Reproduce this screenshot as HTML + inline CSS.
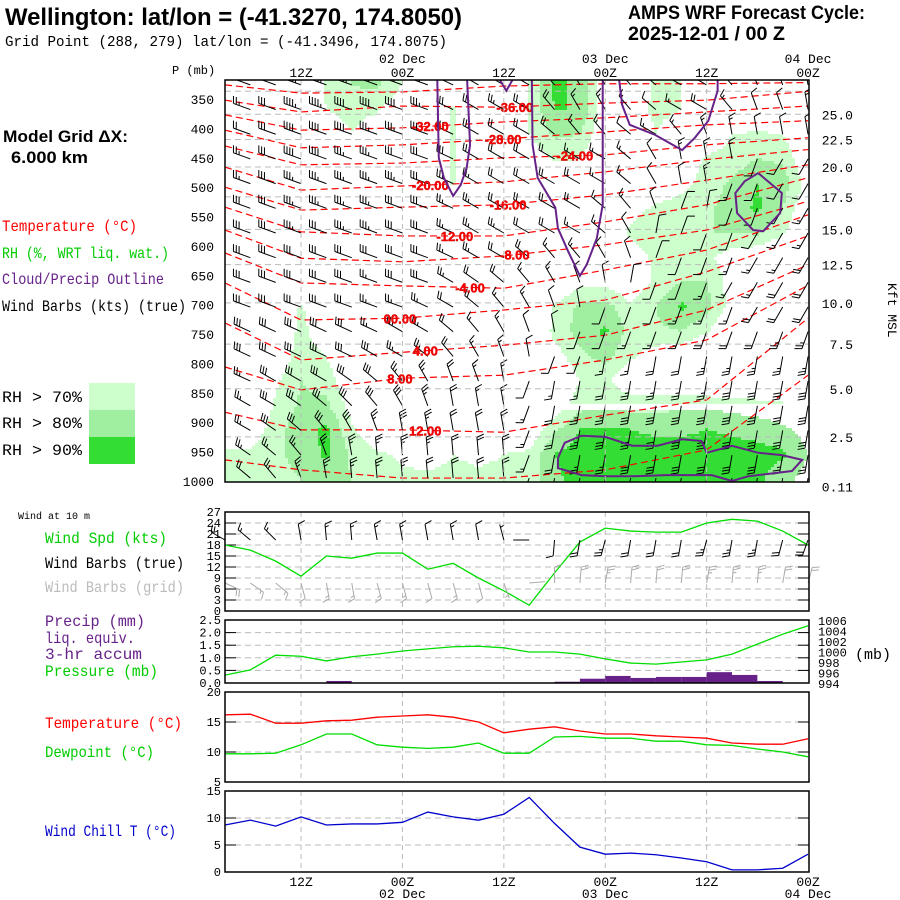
<!DOCTYPE html>
<html><head><meta charset="utf-8"><title>AMPS WRF Meteogram Wellington</title>
<style>
html,body{margin:0;padding:0;background:#fff;}
svg{display:block;}
text{font-family:"Liberation Mono",monospace;}
.hdr{font-family:"Liberation Sans",sans-serif;font-weight:bold;}
</style></head>
<body>
<svg id="chart" xmlns="http://www.w3.org/2000/svg" width="900" height="900" viewBox="0 0 900 900">
<rect x="0" y="0" width="900" height="900" fill="#fff"/>
<defs>
<clipPath id="mainclip"><rect x="225" y="80" width="584" height="402"/></clipPath>
</defs>
<text class="hdr" x="5" y="25" font-size="24" textLength="457" lengthAdjust="spacingAndGlyphs">Wellington:  lat/lon = (-41.3270, 174.8050)</text>
<text x="5" y="46" font-size="15" textLength="442" lengthAdjust="spacingAndGlyphs">Grid Point (288, 279) lat/lon = (-41.3496, 174.8075)</text>
<text class="hdr" x="628" y="19" font-size="19" textLength="237" lengthAdjust="spacingAndGlyphs">AMPS WRF Forecast Cycle:</text>
<text class="hdr" x="628" y="40" font-size="19" textLength="157" lengthAdjust="spacingAndGlyphs">2025-12-01 / 00  Z</text>
<text class="hdr" x="3" y="142" font-size="17" textLength="125" lengthAdjust="spacingAndGlyphs">Model Grid ΔX:</text>
<text class="hdr" x="11" y="163" font-size="17" textLength="77" lengthAdjust="spacingAndGlyphs">6.000 km</text>
<text x="2" y="231" font-size="16" fill="#ff0000" textLength="135" lengthAdjust="spacingAndGlyphs">Temperature (°C)</text>
<text x="2" y="258" font-size="16" fill="#00cc00" textLength="167" lengthAdjust="spacingAndGlyphs">RH (%, WRT liq. wat.)</text>
<text x="2" y="284" font-size="16" fill="#662288" textLength="162" lengthAdjust="spacingAndGlyphs">Cloud/Precip Outline</text>
<text x="2" y="311" font-size="16" fill="#000" textLength="184" lengthAdjust="spacingAndGlyphs">Wind Barbs (kts) (true)</text>
<rect x="89" y="383" width="46" height="27" fill="#ccffcc"/>
<rect x="89" y="410" width="46" height="27" fill="#a0eea0"/>
<rect x="89" y="437" width="46" height="27" fill="#33dd33"/>
<text x="2" y="402" font-size="16" textLength="80" lengthAdjust="spacingAndGlyphs">RH &gt; 70%</text>
<text x="2" y="428" font-size="16" textLength="80" lengthAdjust="spacingAndGlyphs">RH &gt; 80%</text>
<text x="2" y="455" font-size="16" textLength="80" lengthAdjust="spacingAndGlyphs">RH &gt; 90%</text>
<text x="172" y="74" font-size="12">P (mb)</text>
<text x="888" y="283" font-size="13" transform="rotate(90 888 283)">Kft MSL</text>
<text x="18" y="519" font-size="10">Wind at 10 m</text>
<text x="45" y="543" font-size="16" fill="#00cc00" textLength="122" lengthAdjust="spacingAndGlyphs">Wind Spd (kts)</text>
<text x="45" y="568" font-size="16" fill="#000" textLength="139" lengthAdjust="spacingAndGlyphs">Wind Barbs (true)</text>
<text x="45" y="592" font-size="16" fill="#bbbbbb" textLength="139" lengthAdjust="spacingAndGlyphs">Wind Barbs (grid)</text>
<text x="45" y="626" font-size="16" fill="#662288" textLength="100" lengthAdjust="spacingAndGlyphs">Precip (mm)</text>
<text x="45" y="643" font-size="16" fill="#662288" textLength="90" lengthAdjust="spacingAndGlyphs">liq. equiv.</text>
<text x="45" y="659" font-size="16" fill="#662288" textLength="97" lengthAdjust="spacingAndGlyphs">3-hr accum</text>
<text x="45" y="676" font-size="16" fill="#00cc00" textLength="113" lengthAdjust="spacingAndGlyphs">Pressure (mb)</text>
<text x="45" y="728" font-size="16" fill="#ff0000" textLength="137" lengthAdjust="spacingAndGlyphs">Temperature (°C)</text>
<text x="45" y="757" font-size="16" fill="#00cc00" textLength="109" lengthAdjust="spacingAndGlyphs">Dewpoint (°C)</text>
<text x="45" y="836" font-size="16" fill="#0000cc" textLength="131" lengthAdjust="spacingAndGlyphs">Wind Chill T (°C)</text>
<text x="855" y="659" font-size="15">(mb)</text>
<g id="layer"></g>
</svg>
<script>
// ---------- data ----------
const times = [0,3,6,9,12,15,18,21,24,27,30,33,36,39,42,45,48,51,54,57,60,63,66,69];
const levels = [326,368,410,452,494,536,578,620,662,704,746,788,830,872,914,956,995];
const rhRows = [
[50,50,50,55,72,80,82,70,55,60,50,50,72,92,88,60,60,72,70,62,62,62,62,55],
[50,50,50,55,70,74,72,60,55,72,50,50,72,90,90,62,60,74,70,60,55,55,55,50],
[50,50,50,50,60,70,60,50,50,72,50,50,70,82,80,60,55,70,60,60,70,72,70,55],
[50,50,50,50,50,55,50,50,50,72,50,50,60,72,70,55,55,55,60,72,74,80,78,60],
[50,50,50,50,50,50,50,50,50,72,50,50,50,55,55,55,55,60,65,75,82,90,86,65],
[50,50,50,50,50,50,50,50,50,55,50,50,50,50,55,60,65,72,76,78,84,92,80,60],
[50,50,50,50,50,50,50,50,50,50,50,50,50,50,55,62,72,78,80,80,80,82,72,55],
[50,50,50,50,50,50,50,50,50,50,50,50,50,50,50,55,65,72,75,72,65,60,55,50],
[50,50,55,50,50,50,50,50,50,50,50,50,50,55,66,66,60,72,80,80,65,55,50,50],
[50,50,50,72,55,50,50,50,50,50,50,50,50,72,82,84,72,80,92,84,65,50,50,50],
[50,50,55,74,60,50,50,50,50,50,50,50,50,74,84,92,76,78,80,72,55,50,50,50],
[50,50,60,76,70,55,50,50,50,50,50,50,50,65,78,84,72,65,60,55,50,50,50,50],
[50,50,68,80,76,60,50,50,50,50,50,50,50,55,70,72,62,60,55,55,55,55,50,50],
[55,55,72,82,82,65,55,50,50,50,50,50,55,62,76,78,76,76,78,78,76,74,72,70],
[60,62,76,86,92,72,60,55,55,55,55,55,60,78,90,90,90,88,88,90,88,86,82,76],
[72,72,78,84,92,78,72,68,66,70,68,70,72,90,95,95,95,95,95,95,95,94,92,80],
[70,72,76,80,84,80,74,72,72,72,72,72,74,88,94,94,94,94,94,94,94,92,84,76]];
const windSpdRows = [
[20,25,30,45,45,45,40,40,35,30,25,25,20,20,15,15,15,10,15,20,15,10,10,15],
[20,25,30,45,45,40,40,40,35,30,25,25,20,20,15,15,15,10,15,20,15,10,10,15],
[20,20,30,40,40,40,35,35,30,30,25,20,20,20,15,15,10,15,15,15,15,10,10,10],
[25,25,30,40,40,35,35,30,30,30,25,20,20,20,15,15,15,10,15,15,15,10,10,10],
[25,25,30,35,35,35,35,35,30,25,25,20,20,20,20,15,15,10,10,15,15,10,10,10],
[30,30,30,35,35,35,35,30,30,25,25,20,20,20,20,15,15,10,10,10,10,10,10,15],
[30,30,30,35,30,35,35,30,30,25,25,25,20,20,15,15,10,10,10,10,10,10,15,15],
[30,30,30,30,30,30,30,30,30,25,25,20,20,15,15,10,10,10,10,10,15,15,15,20],
[30,30,30,30,30,30,25,30,30,25,20,20,15,15,10,10,10,10,10,15,15,15,20,20],
[30,30,30,30,30,30,25,25,25,20,20,15,15,10,10,10,10,10,15,15,15,20,20,20],
[30,30,30,30,30,30,25,25,25,20,15,15,10,10,10,10,15,15,15,20,20,20,25,25],
[30,30,30,30,30,30,30,25,25,20,15,15,10,10,10,15,15,20,20,25,25,25,25,25],
[25,25,30,30,30,30,30,25,25,20,15,15,10,15,15,20,25,25,25,25,30,30,30,30],
[25,25,30,30,30,30,30,30,25,20,15,15,15,20,25,25,30,30,30,30,30,30,30,30],
[25,25,30,30,30,30,25,30,25,20,20,20,15,20,25,30,30,30,30,30,30,30,30,30],
[25,25,25,25,25,25,25,25,25,20,20,20,15,20,25,25,30,30,30,30,30,30,25,25],
[20,20,25,25,25,25,25,25,20,20,20,20,15,20,20,25,25,25,25,25,25,25,25,20]];
const windDirRows = [
[290,290,290,290,290,290,290,290,290,295,300,300,300,320,330,330,320,310,300,300,320,340,340,350],
[290,290,290,290,290,290,290,290,290,295,300,300,300,320,330,330,320,310,300,300,320,340,340,350],
[290,290,290,290,290,290,290,290,290,295,300,300,300,310,320,320,310,300,320,340,350,350,350,350],
[290,290,290,290,290,290,290,290,290,295,300,300,300,300,300,300,310,330,350,350,350,200,210,210],
[290,290,290,290,290,290,290,290,290,295,300,300,300,300,300,300,310,330,350,350,200,200,210,210],
[290,290,290,290,290,290,290,290,290,295,300,300,300,300,300,310,320,340,20,10,200,200,210,210],
[290,290,290,290,290,290,290,290,290,295,300,300,300,300,300,310,330,10,20,200,200,210,210,210],
[290,290,290,290,290,290,290,290,290,295,300,300,310,320,320,330,340,20,200,200,200,210,210,210],
[290,290,290,290,290,290,290,290,290,300,305,310,320,330,340,350,10,200,200,200,210,210,210,210],
[290,290,290,290,290,290,290,290,295,300,310,320,330,340,350,200,200,200,200,200,200,210,210,210],
[295,295,295,295,295,295,295,300,300,310,320,330,340,350,200,200,200,200,200,200,200,200,200,200],
[295,295,295,295,295,295,300,300,310,320,330,340,350,200,200,190,190,190,190,190,190,190,190,190],
[295,295,300,300,300,305,310,320,330,340,340,350,200,190,190,190,190,190,190,190,190,190,190,190],
[300,300,300,305,310,315,320,330,340,350,350,350,200,190,190,190,190,190,190,190,190,190,190,190],
[300,300,305,310,320,330,340,350,350,350,350,350,200,190,190,190,190,190,190,190,190,190,190,190],
[305,305,310,320,340,350,355,355,355,355,355,355,200,190,190,190,190,190,190,190,190,190,190,190],
[310,310,320,340,350,355,355,355,355,355,355,355,200,190,190,190,190,190,190,190,190,190,190,190]];
const isoValues = [-40,-36,-32,-28,-24,-20,-16,-12,-8,-4,0,4,8,12,16];
const isoTimes = [0,9,21,33,45,57,69];
const isoPressures = [
[326,340,338,328,324,324,322],
[352,372,362,364,357,352,337],
[377,403,399,389,382,372,362],
[403,433,428,418,406,394,387],
[430,462,459,450,445,428,416],
[466,505,498,491,474,453,436],
[500,539,534,530,513,488,462],
[534,576,583,583,559,530,484],
[573,621,627,617,598,573,524],
[612,663,668,672,641,607,547],
[663,726,723,709,692,644,583],
[731,794,781,769,752,709,632],
[806,845,825,820,794,760,667],
[883,913,913,917,888,862,723],
[964,981,995,995,981,947,820]];
const isoLabelTimes = [null,34.3,24.3,32.9,41.4,24.3,33.5,27.2,34.3,29,20.7,23.7,20.7,23.7,null];
const cloudOutlineTimes = [
[25.1,25.3,25.9,27.0,27.9,28.6,29.0,28.6],
[31.8,33.3,34.7],
[36.3,36.4,37.0,39.1,39.4,40.6,42.0,42.8,44.0,44.7,44.7],
[46.5,47.0,47.9,50.9,54.1,55.6,57.2,58.3,58.3],
[63.1,65.9,65.7,63.7,62.5,60.6,60.4,61.5,63.1],
[39.4,40.2,42.2,45.0,48.2,51.2,54.1,56.4,57.0,60.0,63.1,65.9,68.3,67.1,61.9,60.0,57.6,52.1,48.2,45.0,42.2,39.4,39.4]];
const cloudOutlinePressures = [
[300,450,484,515,496,467,428,300],
[300,336,300],
[300,428,484,535,570,609,651,632,587,530,300],
[300,360,394,411,437,416,387,336,300],
[476,510,544,575,573,544,510,490,476],
[961,935,923,925,940,940,929,932,952,940,952,956,964,983,992,1000,990,990,992,992,990,978,961]];
const kftLabels = [27.5,25.0,22.5,20.0,17.5,15.0,12.5,10.0,7.5,5.0,2.5,0.11];
const pressureTicks = [350,400,450,500,550,600,650,700,750,800,850,900,950,1000];
const timeTickTimes = [9,21,33,45,57,69];
const timeTickLabels = ["12Z","00Z","12Z","00Z","12Z","00Z"];
const dateLabels = ["","02 Dec","","03 Dec","","04 Dec"];
// surface series (3-hourly)
const wind10Spd = [18,16.6,13.6,9.5,15,14.4,15.8,15.8,11.4,13,9,5.5,1.6,10.4,18.8,22.6,21.8,21.5,21.5,24,25,24.5,21.8,18];
const wind10Dir = [300,310,315,350,355,355,350,350,350,350,350,345,270,185,190,195,190,190,190,195,190,190,195,200];
const sfcPressure = [995.5,996.5,999.3,999.1,998.2,999,999.5,1000.1,1000.5,1000.9,1001,1000.7,999.9,999.9,999.5,998.6,997.8,997.6,998,998.4,999.5,1001.4,1003.3,1004.9];
const precip3h = [0,0,0,0,0.08,0,0,0,0,0,0,0,0,0.05,0.17,0.28,0.2,0.24,0.24,0.43,0.32,0.08,0];
const sfcTemp = [16.2,16.3,14.8,14.8,15.2,15.3,15.8,16,16.2,15.8,15,13.2,13.8,14.2,13.5,13,13,12.7,12.5,12.3,11.5,11.3,11.3,12.2];
const sfcDewpt = [9.7,9.7,9.8,11.2,13,13,11.2,10.8,10.6,10.8,11.5,9.8,9.8,12.5,12.6,12.3,12.3,11.8,11.8,11.2,11.1,10.5,10,9.2];
const windChill = [8.7,9.6,8.5,10.2,8.7,8.9,8.9,9.2,11.1,10.2,9.6,10.7,13.8,9,4.6,3.3,3.5,3.2,2.6,1.9,0.4,0.4,0.7,3.3];
const windTicks = [0,3,6,9,12,15,18,21,24,27];
const precipTicks = [0,0.5,1,1.5,2,2.5];
const pressTicks = [994,996,998,1000,1002,1004,1006];
const tempTicks = [5,10,15,20];
const chillTicks = [0,5,10,15];

// ---------- scales ----------
const X0 = 225, X1 = 809;
const xT = t => 225 + t * 8.45;
const yP = p => 99 + (p - 350) * 0.5877;
const yW = v => 611 - v * 3.667;
const yPr = v => 683 - v * 25.2;
const yPs = p => 683 - (p - 994) * 5.25;
const yTm = v => 692 + (20 - v) * 6;
const yCh = v => 791 + (15 - v) * 5.4;
const kftToP = k => 1013.25 * Math.pow(1 - 2.25577e-5 * k * 304.8, 5.25588);

const NS = "http://www.w3.org/2000/svg";
const layer = document.getElementById("layer");
function mk(tag, attrs, parent) {
  const e = document.createElementNS(NS, tag);
  for (const k in attrs) e.setAttribute(k, attrs[k]);
  (parent || layer).appendChild(e);
  return e;
}
function txt(s, attrs, parent) { const e = mk("text", attrs, parent); e.textContent = s; return e; }

// ---------- main panel ----------
const mainG = mk("g", {"clip-path": "url(#mainclip)"});



function rhAt(x, y) {
  let c = (x - 225) / 25.35; c = Math.max(0, Math.min(23, c));
  let r = (y - 85) / 24.6; r = Math.max(0, Math.min(16, r));
  const c0 = Math.min(22, Math.floor(c)), r0 = Math.min(15, Math.floor(r));
  const fc = c - c0, fr = r - r0;
  const a = rhRows[r0][c0], b = rhRows[r0][c0 + 1], d = rhRows[r0 + 1][c0], e = rhRows[r0 + 1][c0 + 1];
  return (a * (1 - fc) + b * fc) * (1 - fr) + (d * (1 - fc) + e * fc) * fr;
}
const rhColors = ["#ccffcc", "#a0eea0", "#33dd33"];
const rhG = mk("g", {}, mainG);


const CS = 3;
for (let y = 80; y < 482; y += CS) {
  let runStart = null, runCls = -1;
  for (let x = 225; x <= 809; x += CS) {
    let cls = -1;
    if (x < 809) { const v = rhAt(x + CS / 2, y + CS / 2); cls = v >= 90 ? 2 : v >= 80 ? 1 : v >= 70 ? 0 : -1; }
    if (cls !== runCls) {
      if (runCls >= 0) {
        const cell = mk("rect", {x: runStart, y: y, width: x - runStart, height: CS, fill: rhColors[runCls]}, rhG);
        
      }
      runStart = x; runCls = cls;
    }
  }
}

kftLabels.forEach(k => {
  const y = yP(kftToP(k));
  if (k > 0.2) {
    const gl = mk("line", {x1: X0, x2: X1, y1: y, y2: y, stroke: "#bbb", "stroke-dasharray": "6,4", "stroke-width": 1}, mainG);
    
  }
});
const panels = [[80, 482], [512, 611], [620, 683], [692, 782], [791, 872]];
panels.forEach(pn => {
  timeTickTimes.forEach(t => {
    if (t >= 69) return;
    const vl = mk("line", {x1: xT(t), x2: xT(t), y1: pn[0], y2: pn[1], stroke: "#bbb", "stroke-dasharray": "5,4", "stroke-width": 1});
    
  });
});

isoPressures.forEach((row, i) => {
  const pts = row.map((p, j) => xT(isoTimes[j]) + "," + yP(p)).join(" ");
  const pl = mk("polyline", {points: pts, fill: "none", stroke: "#ff0000", "stroke-width": 1.2, "stroke-dasharray": "7,4"}, mainG);
  
  
});

function barb(parent, x, y, dir, spd, color, L) {
  const r = dir * Math.PI / 180;
  const dx = Math.sin(r), dy = -Math.cos(r);
  const fx = -dy, fy = dx;
  let s = Math.round(spd / 5) * 5;
  let d = "M" + x + " " + y + "L" + (x + dx * L) + " " + (y + dy * L);
  let pos = L;
  const P = q => [x + dx * q, y + dy * q];
  let flags = "";
  while (s >= 50) {
    const a = P(pos), b = P(pos - 4);
    flags += "M" + a[0] + " " + a[1] + "L" + (a[0] + fx * 7) + " " + (a[1] + fy * 7) + "L" + b[0] + " " + b[1] + "Z";
    pos -= 6; s -= 50;
  }
  while (s >= 10) {
    const a = P(pos);
    d += "M" + a[0] + " " + a[1] + "L" + (a[0] + fx * 7 + dx * 2.5) + " " + (a[1] + fy * 7 + dy * 2.5);
    pos -= 3; s -= 10;
  }
  if (s >= 5) {
    if (pos === L) pos -= 3;
    const a = P(pos);
    d += "M" + a[0] + " " + a[1] + "L" + (a[0] + fx * 3.5 + dx * 1.2) + " " + (a[1] + fy * 3.5 + dy * 1.2);
  }
  const g = mk("path", {d: d, stroke: color, fill: "none", "stroke-width": 1}, parent);
  
  
  if (flags) {
    const f = mk("path", {d: flags, fill: color, stroke: color, "stroke-width": 0.5}, parent);
    
  }
}
const barbG = mk("g", {}, mainG);


levels.forEach((p, ri) => {
  times.forEach((t, ci) => {
    if (ci === 0) return;
    barb(barbG, xT(t), yP(p), windDirRows[ri][ci], windSpdRows[ri][ci], "#000", 18);
  });
});

isoValues.forEach((v, i) => {
  const lt = isoLabelTimes[i];
  if (lt === null) return;
  let p = isoPressures[i][0];
  for (let j = 0; j < isoTimes.length - 1; j++) {
    if (lt >= isoTimes[j] && lt <= isoTimes[j + 1]) {
      const f = (lt - isoTimes[j]) / (isoTimes[j + 1] - isoTimes[j]);
      p = isoPressures[i][j] * (1 - f) + isoPressures[i][j + 1] * f;
    }
  }
  const s = v === 0 ? "00.00" : v.toFixed(2);
  const lb = txt(s, {x: xT(lt), y: yP(p) + 5, "text-anchor": "middle", fill: "#ff0000", "font-size": 13, "font-weight": "bold", style: "font-family:'Liberation Sans',sans-serif", stroke: "#cc0000", "stroke-width": 0.4}, mainG);
  
  
});

cloudOutlineTimes.forEach((ts, i) => {
  const pts = ts.map((t, j) => xT(t) + "," + yP(cloudOutlinePressures[i][j])).join(" ");
  const ol = mk("polyline", {points: pts, fill: "none", stroke: "#662288", "stroke-width": 2}, mainG);
  
  
});

const mf = mk("rect", {x: X0, y: 80, width: X1 - X0, height: 402, fill: "none", stroke: "#000", "stroke-width": 1.5});


pressureTicks.forEach(p => {
  const l = txt(String(p), {x: 214, y: yP(p) + 5, "text-anchor": "end", "font-size": 13});
  
});
kftLabels.forEach(k => {
  if (k > 26) return;
  const l = txt(k === 0.11 ? "0.11" : k.toFixed(1), {x: 853, y: yP(kftToP(k)) + 5, "text-anchor": "end", "font-size": 13});
  
});
timeTickTimes.forEach((t, i) => {
  const l = txt(timeTickLabels[i], {x: xT(t), y: 77, "text-anchor": "middle", "font-size": 13});
  
  if (dateLabels[i]) {
    const d = txt(dateLabels[i], {x: xT(t), y: 63, "text-anchor": "middle", "font-size": 13});
    
  }
  const b = txt(timeTickLabels[i], {x: xT(t), y: 886, "text-anchor": "middle", "font-size": 13});
  
  if (dateLabels[i]) {
    const d2 = txt(dateLabels[i], {x: xT(t), y: 898, "text-anchor": "middle", "font-size": 13});
    
  }
});

function panelGrid(top, bot, ticks, yf, fmt, dashed) {
  ticks.forEach(v => {
    const y = yf(v);
    if (dashed(v)) {
      const gl = mk("line", {x1: X0, x2: X1, y1: y, y2: y, stroke: "#bbb", "stroke-dasharray": "6,4"});
      
      const tl = mk("line", {x1: X0, x2: X0 + 11, y1: y, y2: y, stroke: "#000"});
      
      const tr = mk("line", {x1: X1 - 11, x2: X1, y1: y, y2: y, stroke: "#000"});
      
    }
    if (fmt) {
      const l = txt(fmt(v), {x: 221, y: y + 4, "text-anchor": "end", "font-size": 12});
      
    }
  });
}
function frame(top, bot, name) {
  const f = mk("rect", {x: X0, y: top, width: X1 - X0, height: bot - top, fill: "none", stroke: "#000", "stroke-width": 1.5});
  
}
function line(vals, yf, color, name) {
  const pts = vals.map((v, i) => xT(times[i]) + "," + yf(v)).join(" ");
  const pl = mk("polyline", {points: pts, fill: "none", stroke: color, "stroke-width": 1.3});
  
  
}

panelGrid(512, 611, windTicks, yW, v => String(v), v => v > 0 && v < 27);
line(wind10Spd, yW, "#00dd00", "wind-speed-line");
const wb = mk("g", {});

times.forEach((t, i) => {
  barb(wb, xT(t), 540, wind10Dir[i], wind10Spd[i], "#000", 16);
  barb(wb, xT(t), 583, wind10Dir[i] + 175, wind10Spd[i], "#aaaaaa", 16);
});
frame(512, 611, "wind-panel-frame");

panelGrid(620, 683, precipTicks, yPr, v => v.toFixed(1), v => v > 0 && v < 2.5);
precip3h.forEach((v, i) => {
  if (v <= 0) return;
  const r = mk("rect", {x: xT(times[i]), y: yPr(v), width: xT(times[i + 1]) - xT(times[i]), height: 683 - yPr(v), fill: "#662288"});
  
  
});
line(sfcPressure, yPs, "#00dd00", "pressure-line");
pressTicks.forEach(p => {
  const l = txt(String(p), {x: 818, y: yPs(p) + 5, "font-size": 12});
  
});
frame(620, 683, "precip-panel-frame");

panelGrid(692, 782, tempTicks, yTm, v => String(v), v => v === 10 || v === 15);
line(sfcTemp, yTm, "#ff0000", "temperature-line");
line(sfcDewpt, yTm, "#00dd00", "dewpoint-line");
frame(692, 782, "temperature-panel-frame");

panelGrid(791, 872, chillTicks, yCh, v => String(v), v => v === 5 || v === 10);
line(windChill, yCh, "#0000cc", "wind-chill-line");
frame(791, 872, "wind-chill-panel-frame");
</script>
</body></html>
